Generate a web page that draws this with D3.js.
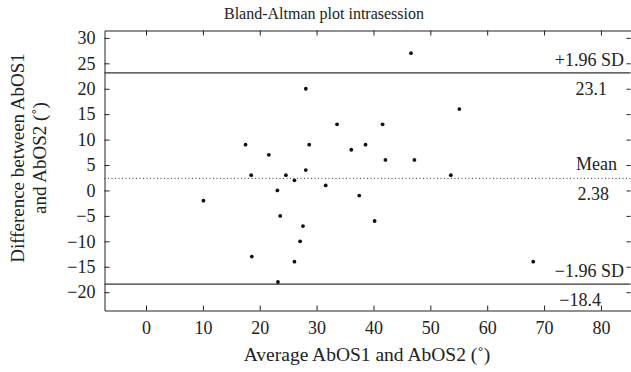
<!DOCTYPE html>
<html>
<head>
<meta charset="utf-8">
<script src="https://cdn.jsdelivr.net/npm/d3@7"></script>
<style>
  body { margin: 0; background: #fff; }
  svg text { font-family: "Liberation Serif", "DejaVu Serif", serif; fill: #222; }
</style>
</head>
<body>
<div class="container"></div>
<script>
// data
const avgVals = [10.1, 17.5, 18.5, 18.6, 21.6, 23.1, 23.6, 23.2, 24.6, 26.1, 26.1, 27.1, 27.6, 28.1, 28.1,
  28.7, 31.6, 33.6, 36.1, 37.5, 38.6, 40.2, 41.6, 42.1, 46.6, 47.2, 53.6, 55.1, 68.1];
const diffVals = [-2, 9, 3, -13, 7, 0, -5, -18, 3, 2, -14, -10, -7, 4, 20,
  9, 1, 13, 8, -1, 9, -6, 13, 6, 27, 6, 3, 16, -14];
const meanDiff = 2.38;
const upperLoa = 23.1;
const lowerLoa = -18.4;
const xTicks = [0, 10, 20, 30, 40, 50, 60, 70, 80];
const yTicks = [-20, -15, -10, -5, 0, 5, 10, 15, 20, 25, 30];

const width = 631;
const height = 372;
const mLeft = 104.5, mRight = 630.5, mTop = 30.5, mBottom = 310.5;
const tickFont = "18px";

const svg = d3.select("div.container")
  .append("svg")
  .attr("width", width)
  .attr("height", height);

const xScale = d3.scaleLinear().domain([-7.3, 85.2]).range([mLeft, mRight]);
const yScale = d3.scaleLinear().domain([-23.6, 31.45]).range([mBottom, mTop]);

// axes, ticks point inward on all four sides
const xAxis = d3.axisBottom(xScale).tickValues(xTicks).tickSizeInner(-5).tickSizeOuter(0).tickPadding(11);
const yAxis = d3.axisLeft(yScale).tickValues(yTicks).tickSizeInner(-5).tickSizeOuter(0).tickPadding(9);
const xTop = d3.axisTop(xScale).tickValues(xTicks).tickSizeInner(-5).tickSizeOuter(0).tickFormat("");
const yRight = d3.axisRight(yScale).tickValues(yTicks).tickSizeInner(-4).tickSizeOuter(0).tickFormat("");

const gx = svg.append("g").attr("transform", `translate(0,${mBottom})`).call(xAxis);
const gy = svg.append("g").attr("transform", `translate(${mLeft},0)`).call(yAxis);
const gt = svg.append("g").attr("transform", `translate(0,${mTop})`).call(xTop);
const gr = svg.append("g").attr("transform", `translate(${mRight},0)`).call(yRight);

[gx, gy, gt, gr].forEach(g => {
  g.selectAll("path").attr("stroke", "#222").attr("stroke-width", 1);
  g.selectAll("line").attr("stroke", "#222").attr("stroke-width", 1);
  g.selectAll("text").style("font-size", tickFont).attr("fill", "#222");
});
gr.select("path").remove();
gy.selectAll("text").text(d => d < 0 ? "\u2212" + Math.abs(d) : d);

// reference lines
svg.append("line")
  .attr("x1", mLeft).attr("x2", mRight)
  .attr("y1", yScale(upperLoa)).attr("y2", yScale(upperLoa))
  .attr("stroke", "#333").attr("stroke-width", 1.3);
svg.append("line")
  .attr("x1", mLeft).attr("x2", mRight)
  .attr("y1", yScale(lowerLoa)).attr("y2", yScale(lowerLoa))
  .attr("stroke", "#333").attr("stroke-width", 1.3);
svg.append("line")
  .attr("x1", mLeft).attr("x2", mRight)
  .attr("y1", yScale(meanDiff)).attr("y2", yScale(meanDiff))
  .attr("stroke", "#333").attr("stroke-width", 1).attr("stroke-dasharray", "1,2.5");

// points
svg.selectAll("circle").data(avgVals).enter().append("circle")
  .attr("cx", d => xScale(d))
  .attr("cy", (d, i) => yScale(diffVals[i]))
  .attr("r", 1.9)
  .attr("fill", "#111");

// line labels
const lab = (txt, x, y) => svg.append("text")
  .attr("x", x).attr("y", y).attr("text-anchor", "end")
  .style("font-size", tickFont).text(txt);
lab("+1.96 SD", 624, yScale(upperLoa) - 7);
lab("23.1", 607, yScale(upperLoa) + 22);
lab("Mean", 617, yScale(meanDiff) - 8);
lab("2.38", 609, yScale(meanDiff) + 22);
lab("\u22121.96 SD", 624, yScale(lowerLoa) - 7);
lab("\u221218.4", 601, yScale(lowerLoa) + 22);

// titles
svg.append("text").attr("x", 324).attr("y", 19).attr("text-anchor", "middle")
  .style("font-size", "16px").text("Bland-Altman plot intrasession");
svg.append("text").attr("x", 367).attr("y", 361).attr("text-anchor", "middle")
  .style("font-size", "19.5px").text("Average AbOS1 and AbOS2 (\u02da)");
const yt = svg.append("text").attr("transform", "translate(0,158) rotate(-90)")
  .attr("text-anchor", "middle").style("font-size", "19px");
yt.append("tspan").attr("x", 0).attr("y", 24).text("Difference between AbOS1");
yt.append("tspan").attr("x", 0).attr("y", 46).text("and AbOS2 (\u02da)");
</script>
</body>
</html>
